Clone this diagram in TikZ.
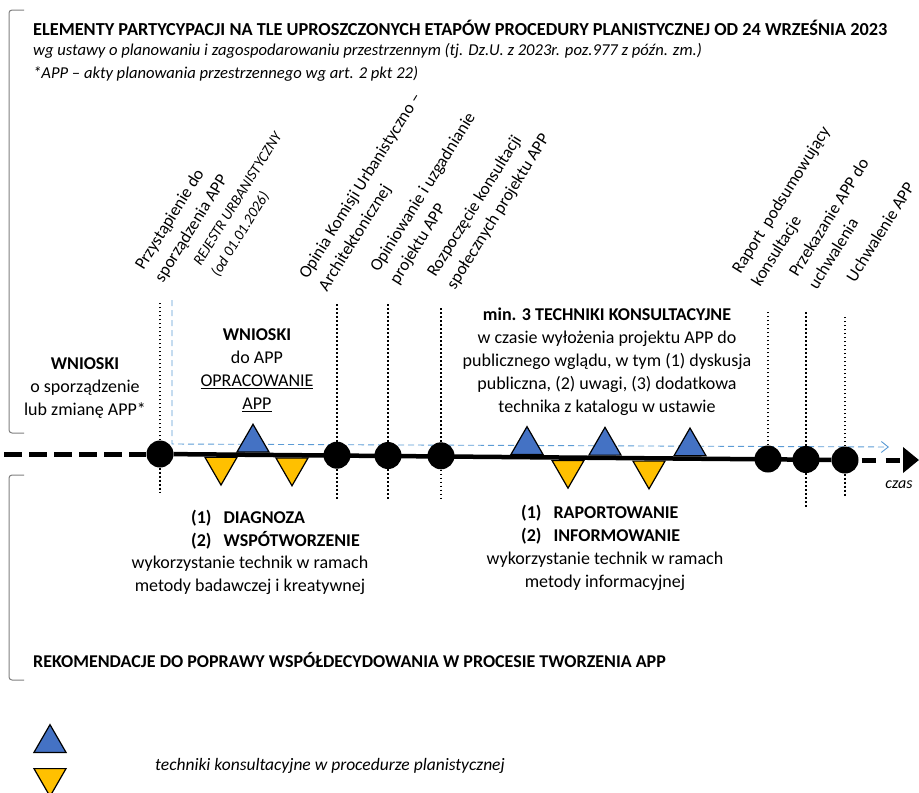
\documentclass[tikz,border=0pt]{standalone}
\usepackage{fontspec}
\setmainfont{Carlito}
\usepackage{xcolor}
\usetikzlibrary{positioning, shapes.geometric, arrows.meta}
\definecolor{techblue}{HTML}{4472C4}
\definecolor{techyellow}{HTML}{FFC000}
\definecolor{flowblue}{HTML}{5B9BD5}
\definecolor{bracketgray}{HTML}{7F7F7F}

\begin{document}
\begin{tikzpicture}[x=1pt, y=-1pt,
    stop/.style={circle, fill=black, minimum size=27pt, inner sep=0pt},
    techup/.style={regular polygon, regular polygon sides=3, draw=black, line width=1.2pt,
        fill=techblue, minimum size=37pt, inner sep=0pt, anchor=side 2},
    techdown/.style={techup, fill=techyellow, shape border rotate=180},
    vdots/.style={line width=1.8pt, dash pattern=on 1.8pt off 2.2pt},
    body/.style={align=center, inner sep=0pt, font=\fontsize{18}{23}\selectfont},
    steplabel/.style={rotate=58, anchor=south west, align=left, inner sep=0pt,
        font=\fontsize{17.2}{23}\selectfont},
    bracket/.style={draw=bracketgray, line width=1pt, rounded corners=3pt}]
    \useasboundingbox (0,0) rectangle (919,793);

    % Header
    \node[anchor=west, inner sep=0pt, font=\fontsize{18.3}{23}\selectfont\bfseries] (title) at (33,28)
        {ELEMENTY PARTYCYPACJI NA TLE UPROSZCZONYCH ETAPÓW PROCEDURY PLANISTYCZNEJ OD 24 WRZEŚNIA 2023};
    \node[anchor=west, inner sep=0pt, font=\fontsize{16.6}{23}\selectfont\itshape] (subtitle) at (33,51)
        {wg ustawy o planowaniu i zagospodarowaniu przestrzennym (tj. Dz.U. z 2023r. poz.977 z późn. zm.)};
    \node[anchor=west, inner sep=0pt, font=\fontsize{16.6}{23}\selectfont\itshape] (note) at (33,74)
        {*APP – akty planowania przestrzennego wg art. 2 pkt 22)};

    % Brackets
    \draw[bracket] (24,10) -- (9,10) -- (9,433) -- (24,433);
    \draw[bracket] (24,475) -- (9,475) -- (9,680) -- (24,680);

    % Steps of the procedure
    \node[steplabel] (przyst) at (169,287) {Przystąpienie do\\sporządzenia APP\strut};
    \node[steplabel, font=\fontsize{15}{21}\selectfont\itshape] (rejestr) at (224,281)
        {REJESTR URBANISTYCZNY\\(od 01.01.2026)\strut};
    \node[steplabel] (opinia) at (333,296) {Opinia Komisji Urbanistyczno –\\Architektonicznej\strut};
    \node[steplabel] (uzgodn) at (404,289) {Opiniowanie i uzgadnianie\\projektu APP\strut};
    \node[steplabel] (konsult) at (461,294) {Rozpoczęcie konsultacji\\społecznych projektu APP\strut};
    \node[steplabel] (raport) at (766,291) {Raport\ \ podsumowujący\\konsultacje\strut};
    \node[steplabel] (przek) at (823,294) {Przekazanie APP do\\uchwalenia\strut};
    \node[steplabel] (uchw) at (861,287) {Uchwalenie APP\strut};

    % Participation (blue dashed)
    \coordinate (flowTop) at (172,300);
    \coordinate (flowCorner) at (172,444);
    \coordinate (flowEnd) at (889,447);
    \draw[flowblue, line width=0.9pt, dash pattern=on 6pt off 4pt, -{Straight Barb[length=7pt, width=11pt]}]
        (flowTop) -- (flowCorner) -- (flowEnd);

    % Timeline
    \foreach \i/\x/\y in {1/160/454, 2/337/455.2, 3/388/455.5, 4/441/455.8,
                          5/768/459, 6/806/459.5, 7/845/460}
        \node[stop] (c\i) at (\x,\y) {};
    \foreach \i/\t in {1/303, 2/303, 3/303, 4/307, 5/310, 6/312, 7/315}
        \draw[vdots] (c\i.north) -- (c\i.center |- 0,\t);
    \foreach \i/\b in {1/493, 2/499, 3/499, 4/499, 6/508, 7/497}
        \draw[vdots] (c\i.south) -- (c\i.center |- 0,\b);
    \coordinate (tStart) at (4,454);
    \coordinate (tEnd) at (919,460);
    \draw[line width=5pt, dash pattern=on 18pt off 7pt] (tStart) -- (c1);
    \draw[line width=4.5pt] (c1) -- (c7);
    \draw[line width=5pt, dash pattern=on 14pt off 10pt, -{Triangle[length=16pt, width=25pt]}]
        (c7.east) ++(3,0) -- (tEnd);

    % Consultation techniques
    \node[techup] (tb1) at (253,452.6) {};
    \node[techup] (tb2) at (527,455) {};
    \node[techup] (tb3) at (605,455.7) {};
    \node[techup] (tb4) at (690,456.4) {};
    \node[techdown] (ty1) at (221,456.7) {};
    \node[techdown] (ty2) at (292,457.4) {};
    \node[techdown] (ty3) at (568,459.8) {};
    \node[techdown] (ty4) at (649,460.5) {};
    \node[inner sep=0pt, font=\fontsize{16}{20}\selectfont\itshape] (czas) at (899,485) {czas};

    % Descriptions above the timeline
    \node[body] (wnioskiA) at (85,388) {\textbf{WNIOSKI}\\o sporządzenie\\lub zmianę APP*};
    \node[body] (wnioskiB) at (257,370) {\textbf{WNIOSKI}\\do APP\\\underline{OPRACOWANIE}\\\underline{APP}};
    \node[body] (techniki) at (607,362) {\textbf{min. 3 TECHNIKI KONSULTACYJNE}\\w czasie wyłożenia projektu APP do\\
        publicznego wglądu, w tym (1) dyskusja\\publiczna, (2) uwagi, (3) dodatkowa\\technika z katalogu w ustawie};

    % Descriptions below the timeline
    \node[body, align=left, anchor=west] (diagList) at (191,530)
        {\textbf{(1)\hspace{12pt}DIAGNOZA}\\\textbf{(2)\hspace{12pt}WSPÓTWORZENIE}};
    \node[body] (diagText) at (250,575) {wykorzystanie technik w ramach\\metody badawczej i kreatywnej};
    \node[body, align=left, anchor=west] (raportList) at (521,525)
        {\textbf{(1)\hspace{12pt}RAPORTOWANIE}\\\textbf{(2)\hspace{12pt}INFORMOWANIE}};
    \node[body] (raportText) at (605,571) {wykorzystanie technik w ramach\\metody informacyjnej};

    \node[anchor=west, inner sep=0pt, font=\fontsize{18}{23}\selectfont\bfseries] (reko) at (33,660)
        {REKOMENDACJE DO POPRAWY WSPÓŁDECYDOWANIA W PROCESIE TWORZENIA APP};

    % Legend
    \node[techup] (legUp) at (50,753) {};
    \node[techdown] (legDown) at (50,768) {};
    \node[anchor=west, inner sep=0pt, font=\fontsize{17.5}{22}\selectfont\itshape] (legText) at (155,766)
        {techniki konsultacyjne w procedurze planistycznej};
\end{tikzpicture}
\end{document}
